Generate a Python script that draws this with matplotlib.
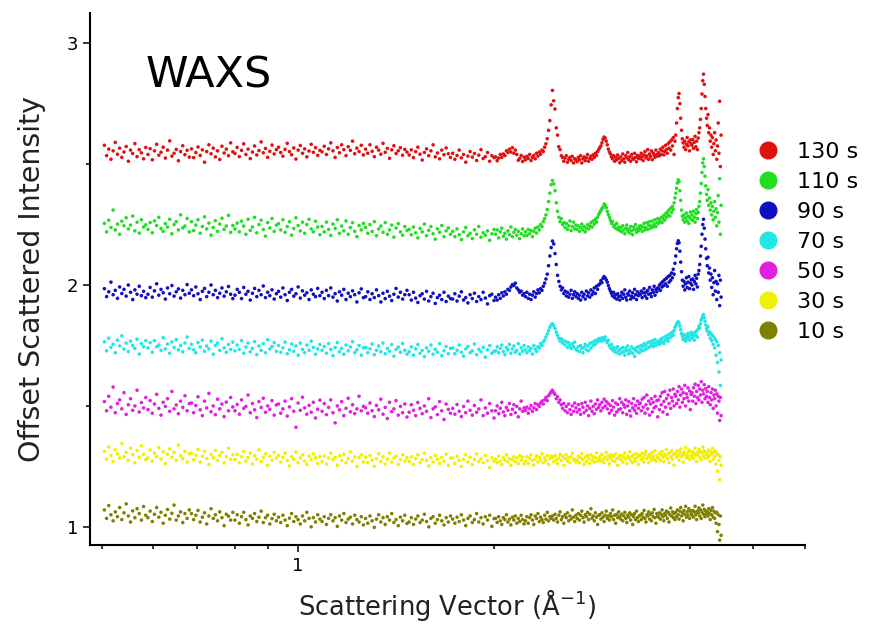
import numpy as np
import matplotlib.pyplot as plt
from matplotlib.ticker import FixedLocator, NullFormatter, FixedFormatter
from matplotlib.lines import Line2D

# scattering vector grid (A^-1): 180 samples below 2 A^-1, 220 above
q = np.concatenate([np.geomspace(0.505, 2.0, 180), np.linspace(2.011, 4.46, 220)])

labels = ["10 s", "30 s", "50 s", "70 s", "90 s", "110 s", "130 s"]
colors = ["#808000", "#f0f000", "#e020e0", "#22e5e5", "#1010c0", "#22dd22", "#e01010"]
offsets = [1.0, 1.25, 1.5, 1.75, 2.0, 2.25, 2.5]

# intensities, in units of 1e-3 above each offset
i_10s = [
    70, 35, 88, 50, 25, 62, 42, 80, 30, 58, 95, 45, 20, 66, 38, 75, 55, 28, 84, 48,
    38, 65, 22, 52, 80, 40, 60, 15, 48, 72, 32, 56, 90, 28, 45, 62, 18, 55, 35, 70,
    55, 30, 48, 68, 20, 40, 58, 12, 45, 75, 35, 50, 25, 62, 38, 5, 52, 44, 28, 60,
    28, 50, 15, 42, 60, 30, 8, 45, 35, 55, 22, 40, 65, 18, 38, 48, 12, 34, 52, 25,
    40, 18, 48, 28, 5, 36, 55, 22, 42, 30, 12, 45, 25, 60, 35, 0, 38, 20, 50, 32,
    22, 42, 10, 35, 50, 25, 38, 2, 45, 28, 55, 18, 32, 40, 12, 48, 30, 20, 42, 8,
    35, 15, 45, 25, -2, 32, 50, 20, 38, 10, 42, 28, 55, 18, 30, 5, 40, 25, 48, 14,
    20, 38, 10, 32, 45, 18, 28, 52, 22, 0, 35, 42, 15, 30, 48, 25, 8, 38, 20, 45,
    32, 15, 40, 22, 50, 28, 5, 35, 45, 18, 30, 55, 20, 38, 12, 42, 28, 48, 2, 34,
    35, 18, 42, 25, 10, 38, 30, 50, 20, 32, 8, 40, 28, 45, 15, 35, 22, 48, 30, 12,
    25, 42, 15, 38, 50, 28, 10, 45, 35, 55, 22, 40, 30, 18, 48, 32, 60, 25, 42, 35,
    45, 28, 52, 35, 20, 48, 62, 30, 42, 15, 50, 38, 58, 25, 45, 32, 70, 40, 22, 48,
    35, 55, 28, 48, 65, 38, 20, 50, 42, 60, 30, 52, 75, 36, 45, 25, 58, 40, 10, 48,
    50, 32, 58, 40, 22, 48, 65, 35, 45, 28, 55, 42, 70, 30, 48, 15, 52, 38, 62, 44,
    32, 52, 25, 45, 60, 35, 18, 48, 40, 58, 28, 50, 10, 42, 55, 30, 65, 38, 22, 46,
    48, 30, 55, 40, 68, 35, 20, 50, 45, 62, 32, 52, 25, 58, 42, 72, 38, 15, 55, 44,
    40, 58, 32, 52, 70, 42, 25, 55, 48, 65, 35, 60, 20, 50, 78, 45, 62, 38, 55, 30,
    60, 42, 70, 50, 32, 65, 80, 45, 58, 25, 68, 52, 85, 40, 62, 48, 75, 35, 66, 55,
    48, 68, 40, 62, 85, 50, 30, 65, 58, 78, 45, 70, 35, 60, 90, 52, 72, 42, 65, 55,
    62, 45, 75, 55, 30, 68, 50, 80, 40, 65, 35, 58, 15, 60, -20, 50, 10, -55, 45, -35,
]
i_30s = [
    62, 30, 80, 45, 20, 70, 52, 35, 95, 40, 58, 25, 75, 48, 15, 66, 38, 85, 50, 28,
    35, 68, 22, 55, 40, 78, 30, 60, 12, 50, 72, 38, 58, 25, 88, 44, 32, 62, 18, 52,
    55, 28, 46, 70, 18, 42, 62, 32, 8, 50, 36, 66, 24, 45, 58, 14, 40, 75, 30, 48,
    28, 50, 15, 40, 62, 22, 36, 55, 10, 44, 30, 68, 20, 38, 52, 5, 42, 26, 58, 34,
    45, 18, 38, 55, 25, 2, 40, 30, 60, 15, 35, 48, 22, 8, 42, 28, 52, 36, 12, 40,
    20, 42, 10, 35, 55, 28, 38, 5, 45, 25, 50, 15, 32, 60, 22, 40, 0, 36, 48, 18,
    38, 15, 45, 25, 0, 32, 52, 20, 40, 10, 30, 55, 18, 35, 42, 8, 28, 48, 22, 36,
    20, 40, 8, 32, 48, 15, 28, 55, 25, 2, 36, 18, 45, 30, 12, 38, 22, 50, 5, 34,
    35, 12, 42, 25, 0, 30, 48, 18, 38, 8, 28, 52, 20, 32, 15, 45, 24, -5, 36, 22,
    30, 15, 42, 22, 8, 36, 25, 48, 18, 32, 5, 28, 40, 20, 35, 12, 45, 26, 38, 10,
    22, 40, 12, 34, 48, 25, 6, 30, 44, 18, 38, 28, 52, 15, 35, 24, 45, 8, 32, 42,
    38, 20, 45, 28, 12, 35, 50, 25, 42, 5, 32, 48, 22, 36, 15, 40, 55, 26, 30, 18,
    25, 42, 15, 35, 52, 28, 8, 38, 20, 45, 32, 12, 48, 26, 40, 18, 36, 55, 22, 30,
    40, 22, 50, 30, 15, 38, 58, 28, 44, 10, 35, 48, 25, 42, 20, 52, 32, 5, 38, 46,
    28, 45, 18, 38, 55, 30, 12, 42, 35, 60, 25, 40, 15, 48, 32, 22, 52, 38, 8, 44,
    45, 28, 55, 35, 18, 48, 62, 32, 40, 15, 50, 38, 25, 58, 42, 30, 65, 22, 46, 36,
    35, 55, 25, 48, 62, 38, 20, 50, 45, 70, 32, 52, 15, 58, 40, 65, 30, 48, 5, 55,
    52, 38, 65, 45, 25, 58, 72, 40, 50, 18, 60, 48, 78, 35, 55, 42, 68, 30, 62, 45,
    40, 60, 32, 52, 75, 45, 20, 58, 50, 70, 38, 62, 28, 55, 80, 42, 65, 35, 58, 48,
    55, 35, 68, 45, 20, 60, 50, 75, 30, 58, 40, 65, 10, 52, -20, 48, 25, -55, 40, 5,
]
i_50s = [
    18, -20, 40, -5, 78, -28, 10, 25, -12, 55, -35, 5, 30, -18, 0, 65, -25, 14, -8, 35,
    -15, 22, -30, 8, 48, -10, -38, 15, -2, 30, -22, 60, -12, 4, -32, 20, -6, 42, -20, 10,
    12, -28, 2, 38, -16, -40, 20, -8, 52, -24, 0, -36, 28, -12, 8, -44, 16, -20, 35, -4,
    -20, 6, -34, 25, -10, -2, 45, -28, 10, -16, -48, 18, -6, 32, -26, 0, -14, 22, -38, 4,
    8, -30, -12, 20, -42, -4, 30, -22, -88, 12, -18, 36, -8, -34, 2, -26, 15, -50, -14, 24,
    -22, 10, -36, -6, 25, -28, -70, 0, -16, 18, -40, -10, 32, -24, 5, -32, -12, 40, -20, -2,
    -8, -30, 12, -20, -44, 2, -16, 28, -34, -6, -52, 15, -24, -12, 22, -38, -2, -28, 8, -46,
    -26, 5, -18, -40, 14, -10, -32, 0, -22, 30, -48, -12, -4, -36, 18, -20, -56, 8, -14, -30,
    -10, -34, 6, -22, -44, -2, -28, 20, -18, -38, 2, -26, -12, 25, -40, -8, -30, 10, -20, -50,
    -20, 0, -32, -10, 15, -25, -40, -6, -18, 10, -35, -14, 5, -28, -2, -45, -12, 20, -22, -8,
    -18, -5, -30, -12, 2, -22, -8, 10, -15, 5, -2, 12, 20, 8, 25, 35, 22, 42, 50, 58,
    65, 55, 48, 30, 38, 15, 25, 5, -10, 10, -20, -2, -28, 8, -15, -35, 0, -22, 12, -8,
    -25, 5, -15, -35, 10, -5, -28, 15, -18, 0, -40, -10, 20, -22, -2, -32, 8, -14, 25, -6,
    5, -20, 15, -8, 28, 0, 18, -12, 10, -30, 2, -18, 22, -5, -38, 12, -25, 6, -15, 30,
    -12, 15, -28, 5, -5, 25, -35, 0, 18, -20, -42, 10, -8, 30, -18, 2, -30, 20, -10, 8,
    12, -20, 28, -5, 35, -30, 5, 45, -12, 20, -38, 8, 30, -25, 15, -8, 40, -2, 22, -45,
    25, -15, 40, 5, 55, -25, 18, 60, -5, 30, -35, 45, 10, 65, -10, 35, 20, 70, 0, 48,
    40, 10, 60, 25, 80, -5, 45, 70, 15, 55, 30, 85, 0, 50, 35, 75, 20, 62, -15, 48,
    55, 20, 75, 40, 90, 10, 60, 35, 85, 25, 70, 45, 100, 15, 65, 50, 88, 30, 72, 40,
    60, 15, 80, 35, 5, 55, 25, 70, -10, 45, 30, 65, 0, 50, -30, 40, 20, -60, 35, -40,
]
i_70s = [
    15, -22, 30, -8, 5, -30, 22, -2, 40, -15, 10, -25, 18, 0, -12, 26, -35, 8, -5, 20,
    -10, 12, -28, 20, -5, 2, -20, 32, -14, 6, -32, 15, -8, 24, -18, 0, -26, 10, 35, -12,
    5, -18, -30, 12, -6, 22, -24, -2, -14, 18, -36, 0, 10, -20, 28, -10, -28, 4, -16, 14,
    -22, 2, -16, 20, -32, -6, 10, -26, -12, 16, -38, -2, -20, 8, -30, 24, -14, -4, 12, -24,
    0, -28, -10, 14, -34, -18, 6, -24, -2, -40, 10, -16, -30, 2, -20, 18, -8, -36, -14, 4,
    -20, -4, -32, 8, -16, -42, -8, 12, -26, -12, -36, 2, -22, -6, 16, -30, -18, 0, -40, -10,
    -8, -30, -14, 6, -38, -20, -2, -26, 10, -34, -12, -24, 4, -44, -16, -6, -28, 8, -20, -36,
    -26, -6, -40, -14, 4, -32, -20, -46, -10, -24, 2, -36, -16, -28, 8, -42, -22, -4, -34, -12,
    -10, -34, -20, 2, -28, -44, -14, -4, -30, -22, 6, -38, -16, -26, -8, -48, -18, 0, -32, -24,
    -22, -5, -30, -12, 2, -25, -38, -8, -18, 5, -32, -15, -2, -28, -20, 8, -35, -10, -24, 0,
    -18, -30, -6, -22, -12, -35, 0, -15, -25, -5, -10, 8, 0, 15, 22, 35, 48, 62, 75, 85,
    90, 82, 70, 55, 42, 30, 18, 28, 10, 20, 2, 15, -8, 12, 0, -12, 8, -5, 14, -15,
    -20, -5, -25, 0, -12, -30, -8, 5, -18, -2, -22, 8, -10, 12, 0, 18, 5, 22, 15, 28,
    20, 30, 18, 32, 25, 35, 20, 12, 22, 0, -10, 5, -18, -8, -25, -12, -30, -5, -20, -35,
    -15, -30, -8, -25, -40, -12, -22, -2, -35, -18, -28, -6, -32, -14, -45, -20, -10, -26, -4, -30,
    -15, 0, -22, -5, 8, -18, 2, -12, 12, -8, 15, -2, 5, 20, -5, 10, 25, 0, 15, 8,
    18, 5, 25, 12, 30, 15, 8, 35, 22, 40, 28, 18, 45, 32, 50, 38, 55, 42, 62, 75,
    80, 88, 95, 98, 92, 80, 65, 50, 38, 25, 45, 30, 18, 40, 28, 50, 35, 22, 42, 55,
    30, 48, 38, 22, 55, 42, 60, 35, 68, 80, 72, 90, 105, 112, 122, 128, 115, 100, 85, 70,
    60, 78, 45, 55, 30, 50, 20, 42, 5, 35, -10, 25, -40, 15, -70, 0, -110, -30, -165, -60,
]
i_90s = [
    -15, -48, -28, 12, -40, -22, -55, -8, -35, -18, -46, 0, -30, -60, -20, -38, -5, -44, -26, -52,
    -38, -10, -50, -24, 5, -42, -18, -32, -58, -12, -36, -2, -46, -28, -16, -54, -22, -40, 2, -34,
    -20, -44, -8, -36, -60, -26, -14, -48, -30, 0, -40, -22, -52, -34, -12, -46, -28, -6, -38, -56,
    -42, -18, -30, -56, -10, -38, -26, -62, -34, -14, -48, -22, -40, -4, -52, -30, -44, -20, -58, -36,
    -26, -50, -12, -40, -64, -30, -18, -46, -36, -8, -54, -24, -42, -32, -60, -20, -38, -48, -14, -44,
    -30, -56, -22, -44, -12, -50, -36, -66, -28, -42, -18, -60, -34, -48, -24, -40, -70, -32, -16, -52,
    -48, -28, -60, -36, -52, -20, -44, -70, -34, -56, -26, -46, -64, -38, -14, -50, -30, -58, -40, -22,
    -40, -62, -30, -54, -72, -44, -36, -58, -26, -66, -48, -34, -76, -52, -42, -60, -30, -68, -46, -56,
    -58, -36, -66, -46, -28, -62, -52, -74, -40, -56, -34, -68, -48, -60, -30, -54, -78, -44, -38, -64,
    -50, -62, -40, -55, -32, -45, -28, -38, -18, -22, -8, 2, -2, 8, -12, -20, -30, -25, -42, -35,
    -48, -30, -55, -38, -60, -42, -28, -50, -35, -20, -32, -15, -22, -5, 8, 25, 45, 80, 120, 155,
    182, 170, 130, 85, 40, 15, -5, -20, -12, -35, -25, -45, -30, -50, -38, -22, -55, -40, -28, -48,
    -35, -55, -42, -62, -30, -48, -38, -58, -25, -45, -32, -50, -20, -40, -28, -12, -35, -5, -18, 0,
    5, 18, 10, 28, 35, 30, 22, 12, -2, -15, -25, -35, -45, -30, -52, -40, -58, -36, -48, -62,
    -45, -30, -55, -38, -20, -50, -62, -35, -42, -25, -58, -46, -32, -52, -18, -40, -60, -28, -44, -36,
    -40, -25, -52, -32, -15, -45, -30, -55, -22, -38, -10, -35, -48, -20, -30, -5, -42, -18, -28, -12,
    -15, 0, -22, 8, -8, 15, -2, 22, 5, 28, -5, 35, 12, 40, 20, 50, 30, 65, 45, 90,
    120, 150, 172, 183, 175, 140, 95, 55, 20, -5, 15, -20, 5, 30, -10, 12, 35, -15, 8, 22,
    0, 25, -18, 15, 40, 5, 28, -8, 45, 60, 85, 120, 160, 210, 250, 272, 235, 190, 150, 110,
    80, 115, 50, 70, 20, 45, -10, 30, -40, 10, 60, -25, 15, -60, 5, -30, 40, -85, 20, -50,
]
i_110s = [
    5, -30, 18, -12, 60, -22, 2, -40, 14, -5, 28, -18, -2, 35, -26, 10, -35, 20, -10, -1,
    -20, 8, -34, 15, -4, 30, -16, -28, 4, -10, 22, -38, 0, 12, -22, 40, -14, -6, 25, -30,
    12, -25, -2, 20, -36, -8, 32, -18, 6, -44, -12, 16, -28, 2, 26, -20, -6, 38, -32, -4,
    -18, 6, -30, 14, -6, -40, 22, -24, -10, 30, -34, 0, 18, -20, -48, 8, -14, 25, -28, -2,
    4, -22, 20, -32, -8, 12, -44, -16, 28, -4, -26, 10, -36, 0, 22, -18, -30, 14, -10, -42,
    -8, -30, 10, -20, -45, 2, -16, 20, -36, -6, -26, 15, -40, -12, 8, -28, -50, -4, -22, 5,
    -12, -36, 0, -28, 12, -46, -18, -6, -32, 8, -40, -22, -2, -52, -14, 4, -30, -44, -8, -24,
    -20, -42, -10, -34, -55, -16, -30, 2, -46, -24, -8, -38, -60, -18, -32, -4, -50, -26, -14, -40,
    -28, -50, -18, -42, -62, -30, -12, -46, -36, -58, -22, -40, -8, -52, -34, -44, -26, -65, -38, -20,
    -40, -22, -55, -30, -15, -48, -36, -60, -26, -42, -10, -50, -32, -20, -44, -28, -58, -38, -18, -46,
    -30, -45, -20, -38, -25, -50, -28, -15, -35, -10, -22, 0, -8, 12, 25, 40, 62, 95, 130, 165,
    182, 168, 140, 90, 55, 30, 12, 25, 0, 8, -12, 5, -20, -5, 15, -25, -8, 10, -18, -2,
    -20, -5, -28, -12, 2, -22, -8, -30, -15, 0, -18, -6, 8, -10, 15, 2, 22, 10, 30, 42,
    50, 58, 66, 72, 85, 80, 70, 55, 42, 30, 18, 5, 12, -8, -2, -15, 5, -20, -10, -25,
    -12, -30, -5, -22, -38, -15, -2, -28, -18, -35, -8, -25, -42, -10, -20, 0, -32, -16, -26, -6,
    -18, -5, -28, -10, 5, -22, -12, 8, -20, -2, 12, -15, -6, 15, -10, 2, 20, -8, 8, 25,
    5, 20, 12, 30, 8, 25, 38, 18, 45, 30, 52, 40, 60, 35, 68, 50, 75, 62, 90, 110,
    130, 150, 172, 185, 178, 140, 100, 60, 35, 20, 40, 10, 28, 48, 15, 35, 5, 30, 52, 22,
    40, 18, 55, 30, 10, 45, 62, 25, 50, 75, 95, 130, 170, 215, 255, 272, 240, 200, 160, 125,
    100, 145, 80, 110, 60, 90, 40, 75, 20, 55, 95, 30, 65, -5, 50, 120, 10, 190, -40, 80,
]
i_130s = [
    78, 35, 62, 20, 55, 90, 41, 66, 28, 50, 73, 12, 58, 44, 85, 31, 60, 47, 22, 69,
    40, 64, 18, 55, 82, 37, 49, 70, 25, 58, 96, 33, 45, 61, 14, 52, 76, 39, 57, 29,
    63, 27, 48, 71, 36, 59, 8, 52, 80, 43, 66, 30, 55, 19, 74, 46, 62, 35, 88, 51,
    44, 69, 31, 57, 84, 40, 62, 23, 50, 75, 38, 56, 92, 47, 65, 28, 53, 79, 42, 60,
    70, 48, 33, 61, 86, 52, 39, 67, 21, 58, 77, 45, 63, 30, 54, 82, 49, 68, 36, 57,
    51, 74, 40, 63, 88, 55, 28, 69, 47, 80, 60, 35, 72, 57, 95, 43, 66, 52, 78, 38,
    62, 45, 80, 53, 31, 70, 58, 41, 86, 49, 65, 24, 59, 76, 44, 55, 68, 37, 61, 50,
    38, 59, 27, 52, 70, 41, 17, 48, 63, 35, 55, 80, 30, 46, 22, 58, 39, 67, 43, 28,
    45, 20, 36, 58, 26, 40, 8, 33, 52, 29, 44, 15, 37, 60, 23, 31, 48, 12, 35, 27,
    30, 14, 25, 40, 28, 42, 35, 55, 48, 62, 50, 68, 45, 58, 40, 16, 24, 36, 11, 29,
    18, 32, 24, 40, 15, 28, 36, 22, 45, 33, 50, 41, 58, 52, 70, 84, 105, 140, 180, 245,
    305, 262, 228, 150, 120, 72, 60, 35, 28, 12, 25, 35, 8, 20, 28, 15, 32, 5, 22, 18,
    10, 28, 18, 35, 5, 22, 30, 14, 26, 40, 12, 24, 33, 20, 38, 28, 45, 36, 52, 60,
    68, 75, 88, 102, 112, 108, 95, 80, 62, 50, 42, 30, 22, 35, 12, 28, 18, 38, 24, 6,
    30, 15, 42, 22, 8, 35, 26, 48, 18, 31, 12, 40, 25, 20, 45, 28, 10, 36, 24, 33,
    22, 45, 30, 15, 38, 52, 26, 34, 60, 20, 42, 31, 55, 18, 46, 36, 28, 58, 40, 33,
    48, 35, 62, 40, 55, 70, 38, 52, 78, 60, 45, 85, 66, 92, 58, 100, 75, 110, 40, 95,
    120, 170, 230, 275, 292, 250, 190, 140, 105, 88, 70, 95, 60, 82, 110, 75, 92, 55, 100, 85,
    78, 102, 65, 90, 115, 72, 95, 60, 108, 130, 150, 185, 230, 290, 345, 372, 330, 280, 230, 190,
    160, 205, 130, 150, 95, 120, 70, 110, 40, 85, 130, 55, 100, 20, 75, 170, 45, 260, -10, 120,
]

series = [i_10s, i_30s, i_50s, i_70s, i_90s, i_110s, i_130s]

fig = plt.figure(figsize=(8.69, 6.34), dpi=100)
ax = fig.add_axes([0.1036, 0.1404, 0.8228, 0.8391])

for vals, off, col in zip(series, offsets, colors):
    y = off + np.array(vals) / 1000.0
    ax.scatter(q, y, s=6.5, color=col, edgecolors="none")

ax.set_xscale("log")
ax.set_xlim(0.48, 6.0)
ax.set_ylim(0.925, 3.125)

# x ticks: only "1" labelled
ax.xaxis.set_major_locator(FixedLocator([1.0]))
ax.xaxis.set_major_formatter(FixedFormatter(["1"]))
ax.xaxis.set_minor_locator(FixedLocator([0.5, 0.6, 0.7, 0.8, 0.9, 2, 3, 4, 5, 6]))
ax.xaxis.set_minor_formatter(NullFormatter())

ax.set_yticks([1, 2, 3])
ax.set_yticklabels(["1", "2", "3"])
ax.yaxis.set_minor_locator(FixedLocator([1.5, 2.5]))

ax.tick_params(which="major", direction="out", length=5, width=1.1, labelsize=13)
ax.tick_params(which="minor", direction="out", length=3, width=1.1)

for s in ["top", "right"]:
    ax.spines[s].set_visible(False)
for s in ["left", "bottom"]:
    ax.spines[s].set_linewidth(1.5)

ax.set_xlabel("Scattering Vector (Å$^{-1}$)", fontsize=18.5, labelpad=9, color="#222222")
ax.set_ylabel("Offset Scattered Intensity", fontsize=20.5, labelpad=15, color="#222222")

ax.text(0.077, 0.86, "WAXS", transform=ax.transAxes, fontsize=31, va="baseline")

# legend, newest at the top
handles = [Line2D([], [], ls="none", marker="o", markersize=13, color=c, mec="none")
           for c in colors[::-1]]
fig.legend(handles, labels[::-1], loc="upper left", bbox_to_anchor=(0.869, 0.776),
           frameon=False, fontsize=16, handletextpad=0.7, labelspacing=0.45,
           borderpad=0, borderaxespad=0, handlelength=1.2)

plt.savefig("out.png", dpi=100)
